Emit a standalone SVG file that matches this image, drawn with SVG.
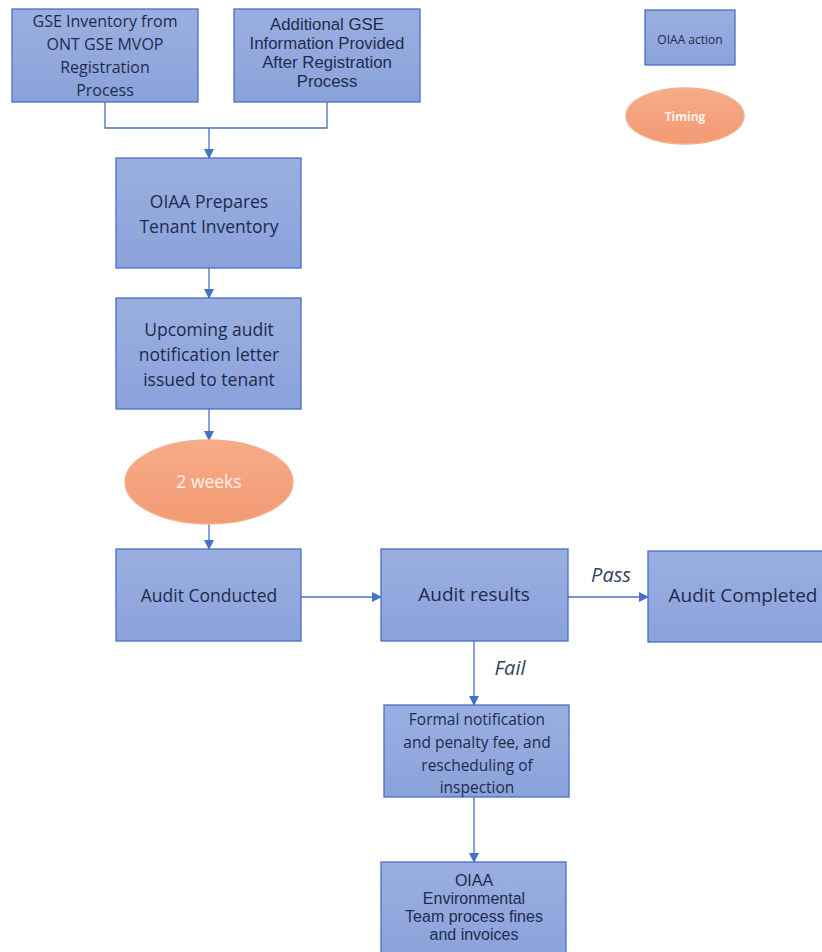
<svg xmlns="http://www.w3.org/2000/svg" width="822" height="952" viewBox="0 0 822 952">
<defs>
<linearGradient id="bg" x1="0" y1="0" x2="0" y2="1">
<stop offset="0" stop-color="#9aafe0"/>
<stop offset="0.5" stop-color="#93a9de"/>
<stop offset="1" stop-color="#8aa2da"/>
</linearGradient>
<linearGradient id="og" x1="0" y1="0" x2="0" y2="1">
<stop offset="0" stop-color="#f7ab88"/>
<stop offset="1" stop-color="#f39a74"/>
</linearGradient>
<marker id="ah" markerWidth="10" markerHeight="10" refX="9" refY="5" orient="auto" markerUnits="userSpaceOnUse">
<path d="M0,0 L10,5 L0,10 Z" fill="#4472c4"/>
</marker>
<style>
.box{fill:url(#bg);stroke:#4a6fc0;stroke-width:1.3}
.ell{fill:url(#og);stroke:#f0b090;stroke-width:1.3}
.t{font-family:"Open Sans","Liberation Sans",sans-serif;fill:#1f2b4d;text-anchor:middle}
.tn{font-family:"Liberation Sans",Arial,sans-serif;fill:#1f2b4d;text-anchor:middle}
.w{font-family:"Open Sans","Liberation Sans",sans-serif;fill:#fff3ea;text-anchor:middle}
.lbl{font-family:"Open Sans","Liberation Sans",sans-serif;fill:#33415f;font-style:italic;text-anchor:middle;font-size:20px}
.c{fill:none;stroke:#4a6fc0;stroke-width:1.3}
.ca{fill:none;stroke:#4a6fc0;stroke-width:1.3;marker-end:url(#ah)}
</style>
</defs>
<rect width="822" height="952" fill="#ffffff"/>
<g id="connectors">
<path class="c" d="M105,102 V128 H327 V102"/>
<path class="ca" d="M209,128 V158"/>
<path class="ca" d="M209,268 V298"/>
<path class="ca" d="M209,409 V440"/>
<path class="ca" d="M209,524 V549"/>
<path class="ca" d="M301,597 H381"/>
<path class="ca" d="M568,597 H648"/>
<path class="ca" d="M474,641 V705"/>
<path class="ca" d="M474,797 V862"/>
</g>
<g id="lbl-pass"><text class="lbl" x="611" y="582">Pass</text></g>
<g id="lbl-fail"><text class="lbl" x="510" y="675">Fail</text></g>
<g id="n-gse-inventory">
<rect class="box" x="12" y="9" width="186" height="93"/>
<text class="t" font-size="16"><tspan x="105" y="27">GSE Inventory from</tspan><tspan x="105" y="50">ONT GSE MVOP</tspan><tspan x="105" y="73">Registration</tspan><tspan x="105" y="96">Process</tspan></text>
</g>
<g id="n-additional-gse">
<rect class="box" x="234" y="9" width="186" height="93"/>
<text class="tn" font-size="16.8"><tspan x="327" y="30">Additional GSE</tspan><tspan x="327" y="49">Information Provided</tspan><tspan x="327" y="68">After Registration</tspan><tspan x="327" y="87">Process</tspan></text>
</g>
<g id="legend-action">
<rect class="box" x="645" y="10" width="90" height="55"/>
<text class="t" font-size="12" x="690" y="44">OIAA action</text>
</g>
<g id="legend-timing">
<ellipse class="ell" cx="685" cy="116" rx="59" ry="28"/>
<text class="w" font-size="12" font-weight="bold" x="685" y="121">Timing</text>
</g>
<g id="n-prepares">
<rect class="box" x="116" y="158" width="185" height="110"/>
<text class="t" font-size="17.5"><tspan x="209" y="208">OIAA Prepares</tspan><tspan x="209" y="233">Tenant Inventory</tspan></text>
</g>
<g id="n-notification">
<rect class="box" x="116" y="298" width="185" height="111"/>
<text class="t" font-size="17.5"><tspan x="209" y="336">Upcoming audit</tspan><tspan x="209" y="361">notification letter</tspan><tspan x="209" y="386">issued to tenant</tspan></text>
</g>
<g id="n-2weeks">
<ellipse class="ell" cx="209" cy="482" rx="84" ry="42"/>
<text class="w" font-size="17.5" x="209" y="488">2 weeks</text>
</g>
<g id="n-audit-conducted">
<rect class="box" x="116" y="549" width="185" height="92"/>
<text class="t" font-size="17.5" x="209" y="602">Audit Conducted</text>
</g>
<g id="n-audit-results">
<rect class="box" x="381" y="549" width="187" height="92"/>
<text class="t" font-size="19" x="474" y="601">Audit results</text>
</g>
<g id="n-audit-completed">
<rect class="box" x="648" y="551" width="180" height="91"/>
<text class="t" font-size="19" x="743" y="602">Audit Completed</text>
</g>
<g id="n-formal">
<rect class="box" x="384" y="705" width="185" height="92"/>
<text class="t" font-size="15.5"><tspan x="477" y="725">Formal notification</tspan><tspan x="477" y="748">and penalty fee, and</tspan><tspan x="477" y="771">rescheduling of</tspan><tspan x="477" y="793">inspection</tspan></text>
</g>
<g id="n-environmental">
<rect class="box" x="381" y="862" width="185" height="95"/>
<text class="tn" font-size="16"><tspan x="474" y="886">OIAA</tspan><tspan x="474" y="904">Environmental</tspan><tspan x="474" y="922">Team process fines</tspan><tspan x="474" y="940">and invoices</tspan></text>
</g>
</svg>
